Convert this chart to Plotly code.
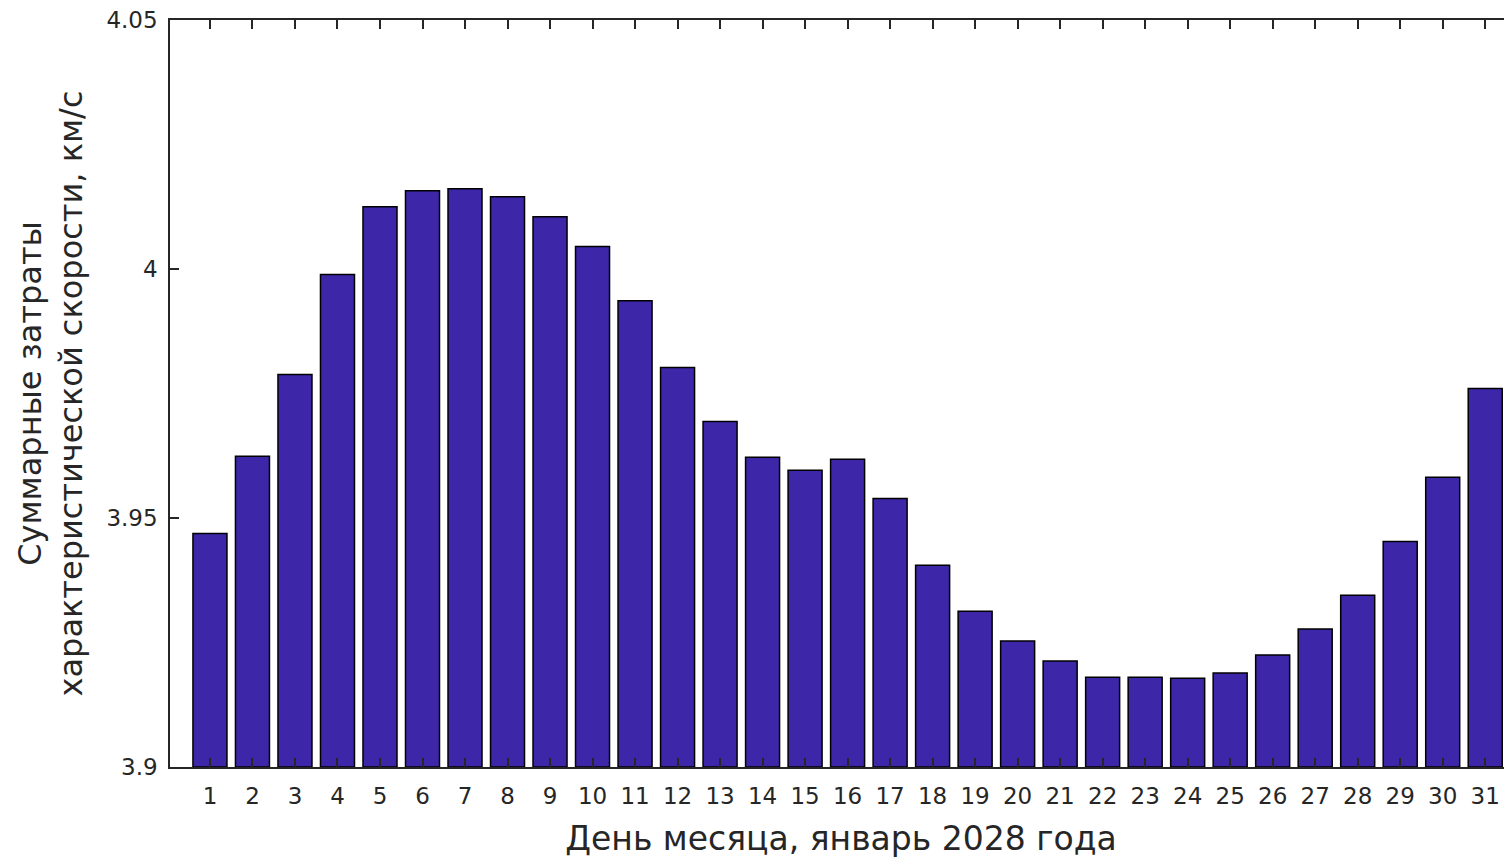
import plotly.graph_objects as go

days = list(range(1, 32))
dv_total = [3.9469, 3.9624, 3.9788, 3.9989, 4.0125, 4.0157, 4.0161, 4.0145, 4.0105, 4.0045,
            3.9936, 3.9802, 3.9694, 3.9622, 3.9596, 3.9618, 3.9539, 3.9405, 3.9313, 3.9253,
            3.9213, 3.9180, 3.9180, 3.9178, 3.9189, 3.9225, 3.9277, 3.9345, 3.9453, 3.9582,
            3.9760]
y_ticks = [3.9, 3.95, 4.0, 4.05]
y_tick_text = ["3.9", "3.95", "4", "4.05"]

AX = "#262626"
FONT = "DejaVu Sans, Liberation Sans, Arial, sans-serif"

fig = go.Figure()
fig.add_trace(go.Bar(
    x=days, y=[v - 3.9 for v in dv_total], base=3.9,
    width=0.8,
    marker=dict(color="rgb(62,38,168)", line=dict(color="black", width=1.5)),
))

fig.update_layout(
    width=1504, height=850,
    margin=dict(l=162, r=0, t=12, b=91),
    paper_bgcolor="white", plot_bgcolor="white",
    showlegend=False,
    font=dict(family=FONT, color=AX),
    bargap=0.2,
)
fig.update_xaxes(
    range=[0.06, 31.63], automargin=False,
    tickmode="array", tickvals=days, ticktext=[str(d) for d in days],
    ticks="inside", ticklen=9, tickwidth=1.5, tickcolor=AX,
    showline=True, linecolor=AX, linewidth=1.5, mirror="ticks",
    showgrid=False, zeroline=False,
    tickfont=dict(size=23, color=AX),
    ticklabelstandoff=8, ticklabeloverflow="allow",
    title=dict(text="День месяца, январь 2028 года", font=dict(size=33, color=AX), standoff=20),
)
fig.update_yaxes(
    range=[3.9, 4.05], automargin=False,
    tickmode="array", tickvals=y_ticks, ticktext=y_tick_text,
    ticks="inside", ticklen=9, tickwidth=1.5, tickcolor=AX,
    showline=True, linecolor=AX, linewidth=1.5, mirror=False,
    showgrid=False, zeroline=False,
    tickfont=dict(size=23, color=AX),
    ticklabelstandoff=6, ticklabeloverflow="allow",
    title=dict(text="Суммарные затраты<br>характеристической скорости, км/с",
               font=dict(size=32, color=AX), standoff=14),
)

fig.write_html("out.html")
